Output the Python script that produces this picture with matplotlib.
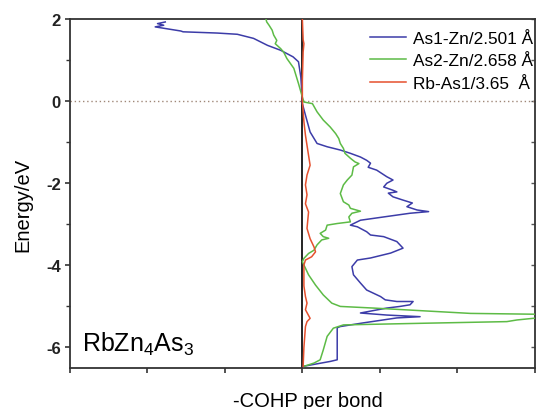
import matplotlib
matplotlib.use('Agg')
import matplotlib.pyplot as plt
import numpy as np

plt.rcParams['font.family'] = ['Liberation Sans', 'DejaVu Sans']
plt.rcParams['mathtext.fontset'] = 'custom'
plt.rcParams['mathtext.rm'] = 'Liberation Sans'
plt.rcParams['mathtext.it'] = 'Liberation Sans'
plt.rcParams['axes.unicode_minus'] = False

# As1-Zn/2.501 A  (-COHP, energy)
as1_cohp = [-1.77, -1.87, -1.79, -1.90, -1.57, -1.54, -1.10, -0.84, -0.63, -0.45, -0.28, -0.12, -0.05, -0.02, 0.0,
            0.0, 0.04, 0.10, 0.19, 0.32, 0.49, 0.62, 0.75, 0.83, 0.88, 0.85, 0.96, 1.09, 1.17, 1.09, 1.05, 1.17,
            1.22, 1.11, 1.17, 1.30, 1.42, 1.35, 1.48, 1.63, 1.39, 1.05, 0.75, 0.62, 0.71, 0.83, 0.88, 1.05, 1.22,
            1.30, 1.14, 0.88, 0.71, 0.64, 0.66, 0.75, 0.83, 1.01, 1.07, 1.22, 1.43, 1.39, 1.26, 1.09, 0.75, 1.09,
            1.52, 1.22, 0.79, 0.49, 0.45, 0.45, 0.36, 0.01]
as1_energy = [1.93, 1.89, 1.85, 1.81, 1.71, 1.69, 1.66, 1.63, 1.53, 1.36, 1.24, 1.08, 0.96, 0.59, 0.02,
              -0.06, -0.34, -0.75, -1.03, -1.11, -1.19, -1.27, -1.36, -1.44, -1.51, -1.61, -1.68, -1.84, -1.92,
              -2.00, -2.09, -2.17, -2.21, -2.24, -2.33, -2.41, -2.48, -2.57, -2.65, -2.69, -2.73, -2.82, -2.90,
              -3.02, -3.06, -3.18, -3.26, -3.30, -3.42, -3.58, -3.70, -3.82, -3.87, -4.03, -4.23, -4.43, -4.60,
              -4.76, -4.84, -4.88, -4.88, -4.96, -5.00, -5.04, -5.16, -5.21, -5.25, -5.28, -5.40, -5.49, -5.52,
              -6.30, -6.34, -6.46]

# As2-Zn/2.658 A
as2_cohp = [-0.47, -0.46, -0.43, -0.39, -0.37, -0.33, -0.35, -0.28, -0.24, -0.20, -0.11, -0.05, 0.0, 0.02, 0.13,
            0.19, 0.27, 0.36, 0.43, 0.47, 0.49, 0.53, 0.55, 0.62, 0.68, 0.73, 0.66, 0.64, 0.58, 0.53, 0.49, 0.53,
            0.60, 0.62, 0.75, 0.64, 0.60, 0.62, 0.45, 0.32, 0.30, 0.23, 0.27, 0.34, 0.25, 0.19, 0.15, 0.08, 0.02,
            0.0, 0.02, 0.08, 0.17, 0.27, 0.38, 0.49, 0.92, 2.17, 3.01, 3.40, 2.98, 2.77, 2.64, 1.56, 0.53, 0.40,
            0.32, 0.27, 0.23, 0.15, 0.02]
as2_energy = [2.00, 1.93, 1.85, 1.73, 1.61, 1.48, 1.40, 1.28, 1.19, 1.04, 0.80, 0.43, 0.10, -0.02, -0.06,
              -0.26, -0.46, -0.63, -0.79, -0.91, -1.03, -1.15, -1.27, -1.39, -1.48, -1.52, -1.60, -1.80, -1.92,
              -2.04, -2.25, -2.45, -2.53, -2.61, -2.68, -2.73, -2.82, -2.94, -2.98, -3.02, -3.14, -3.22, -3.30,
              -3.34, -3.38, -3.50, -3.63, -3.71, -3.83, -3.91, -3.99, -4.23, -4.48, -4.72, -4.92, -5.00, -5.04,
              -5.17, -5.19, -5.24, -5.29, -5.33, -5.37, -5.41, -5.45, -5.53, -5.73, -6.06, -6.30, -6.38, -6.46]

# Rb-As1/3.65 A
rb_cohp = [0.0, 0.01, 0.02, 0.01, 0.0, 0.0, 0.02, 0.04, 0.08, 0.10, 0.06, 0.04, 0.06, 0.04, 0.08, 0.06, 0.10,
           0.15, 0.17, 0.12, 0.04, 0.02, 0.02, 0.04, 0.06, 0.04, 0.10, 0.06, 0.04, 0.02, 0.01]
rb_energy = [2.0, 1.5, 1.4, 1.2, 0.5, 0.0, -0.5, -0.83, -1.32, -1.56, -1.80, -2.04, -2.28, -2.50, -2.70, -3.10,
             -3.35, -3.55, -3.67, -3.79, -3.87, -3.99, -4.5, -4.76, -4.92, -5.08, -5.29, -5.37, -5.49, -6.0, -6.46]

labels = ['As1-Zn/2.501 Å', 'As2-Zn/2.658 Å', 'Rb-As1/3.65  Å']
colors = ['#3c3ca8', '#5dbb46', '#e5502e']

fig = plt.figure(figsize=(5.36, 4.10), dpi=100)
ax = fig.add_axes([0.1306, 0.1, 0.867, 0.851])

ax.plot(as1_cohp, as1_energy, color=colors[0], lw=1.1, label=labels[0], zorder=3)
ax.plot(as2_cohp, as2_energy, color=colors[1], lw=1.1, label=labels[1], zorder=3)
ax.plot(rb_cohp, rb_energy, color=colors[2], lw=1.1, label=labels[2], zorder=3)

ax.axvline(0, color='black', lw=1.2, zorder=2)
ax.axhline(0, color='#a08878', lw=1.0, ls=(0, (1, 2)), zorder=1)

ax.set_xlim(-3, 3)
ax.set_ylim(-6.5, 2)
ax.set_xticks(np.arange(-3, 4, 1))
ax.set_xticklabels([])
ax.set_yticks([-6, -4, -2, 0, 2])
ax.set_yticks([-5, -3, -1, 1], minor=True)
ax.tick_params(axis='y', which='both', direction='out', left=True, right=False, labelsize=12, pad=3, colors='#333333')
ax.tick_params(axis='y', which='major', length=3.6, width=1.2)
ax.tick_params(axis='y', which='minor', length=2.6, width=1.0)
ax.tick_params(axis='x', which='major', direction='out', length=3.6, width=1.2, colors='#333333')
for lab in ax.get_yticklabels():
    lab.set_fontweight('bold')
    lab.set_color('#222222')

# inward ticks on the right spine
ax2 = ax.secondary_yaxis('right')
ax2.set_yticks([-6, -5, -4, -3, -2, -1, 0, 1, 2])
ax2.tick_params(direction='in', length=3, width=1.0, colors='#555555', labelright=False)
ax2.spines['right'].set_visible(False)

for s in ax.spines.values():
    s.set_color('#333333')
    s.set_linewidth(1.3)

ax.set_ylabel('Energy/eV', fontsize=14.5)
ax.yaxis.set_label_coords(-0.08, 0.47)
ax.set_xlabel('-COHP per bond', fontsize=14.5, labelpad=7)
ax.xaxis.set_label_coords(0.512, -0.065)

ax.text(-2.84, -6.08, r'RbZn$_4$As$_3$', fontsize=18, ha='left', va='baseline')

ax.legend(loc='upper right', bbox_to_anchor=(1.0, 0.972), frameon=False, fontsize=12.4,
          handlelength=2.1, handletextpad=0.4, labelspacing=0.45, borderaxespad=0, borderpad=0.1)

fig.savefig('out.png', dpi=100)
